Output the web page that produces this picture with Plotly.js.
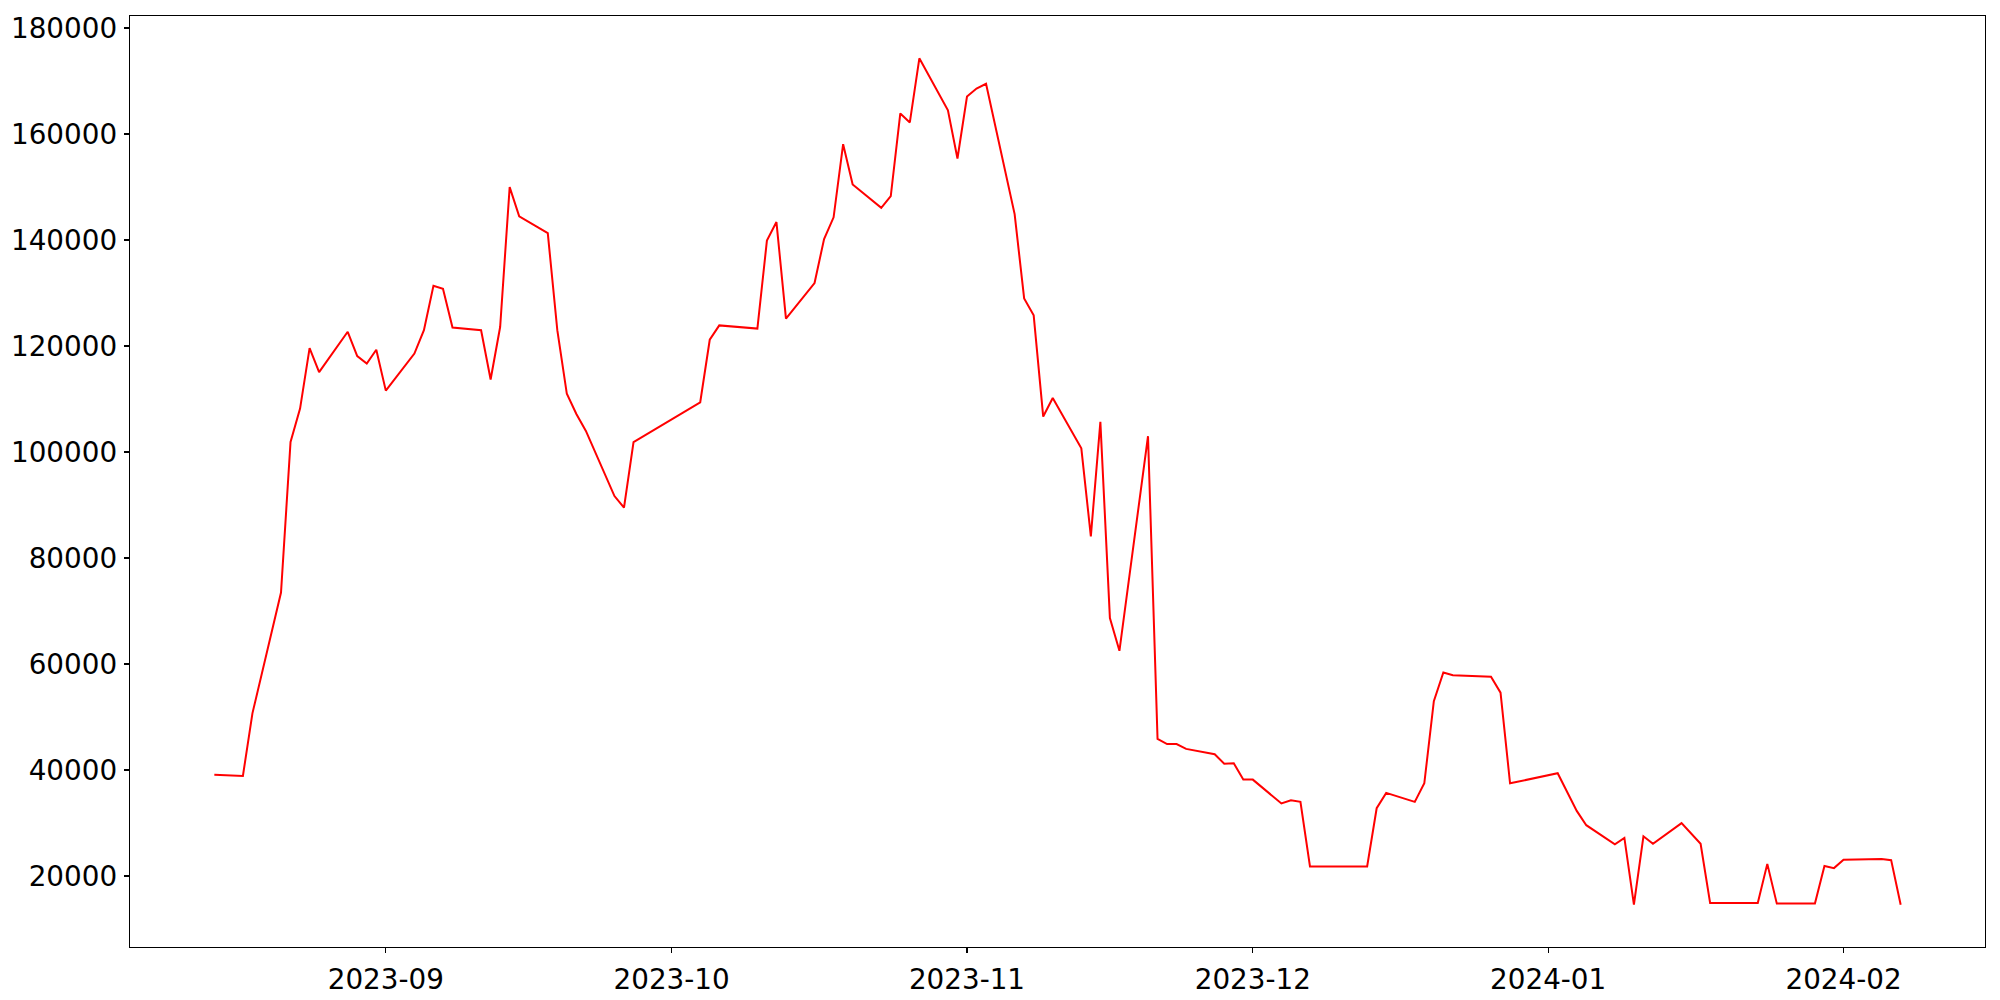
<!DOCTYPE html>
<html>
<head>
<meta charset="utf-8">
<script src="https://cdn.plot.ly/plotly-3.0.1.min.js"></script>
<style>
  html, body { margin: 0; padding: 0; background: #fff; }
  #chart { width: 2000px; height: 1000px; }
</style>
</head>
<body>
<div id="chart"></div>
<script>
const dates = [
  "2023-08-14","2023-08-16","2023-08-17","2023-08-18",
  "2023-08-21","2023-08-22","2023-08-23","2023-08-24","2023-08-25",
  "2023-08-28","2023-08-29","2023-08-30","2023-08-31","2023-09-01",
  "2023-09-04","2023-09-05","2023-09-06","2023-09-07","2023-09-08",
  "2023-09-11","2023-09-12","2023-09-13","2023-09-14","2023-09-15",
  "2023-09-18","2023-09-19","2023-09-20","2023-09-21","2023-09-22",
  "2023-09-25","2023-09-26","2023-09-27",
  "2023-10-04","2023-10-05","2023-10-06",
  "2023-10-10","2023-10-11","2023-10-12","2023-10-13",
  "2023-10-16","2023-10-17","2023-10-18","2023-10-19","2023-10-20",
  "2023-10-23","2023-10-24","2023-10-25","2023-10-26","2023-10-27",
  "2023-10-30","2023-10-31","2023-11-01","2023-11-02","2023-11-03",
  "2023-11-06","2023-11-07","2023-11-08","2023-11-09","2023-11-10",
  "2023-11-13","2023-11-14","2023-11-15","2023-11-16","2023-11-17",
  "2023-11-20","2023-11-21","2023-11-22","2023-11-23","2023-11-24",
  "2023-11-27","2023-11-28","2023-11-29","2023-11-30","2023-12-01",
  "2023-12-04","2023-12-05","2023-12-06","2023-12-07",
  "2023-12-13","2023-12-14","2023-12-15",
  "2023-12-18","2023-12-19","2023-12-20","2023-12-21","2023-12-22",
  "2023-12-26","2023-12-27","2023-12-28",
  "2024-01-02","2024-01-04","2024-01-05",
  "2024-01-08","2024-01-09","2024-01-10","2024-01-11","2024-01-12",
  "2024-01-15","2024-01-16","2024-01-17","2024-01-18",
  "2024-01-23","2024-01-24","2024-01-25",
  "2024-01-29","2024-01-30","2024-01-31","2024-02-01",
  "2024-02-05","2024-02-06","2024-02-07"
];
const values = [
  39100, 38900, 38900, 50700,
  73500, 101900, 108200, 119600, 115100,
  122700, 118100, 116700, 119300, 111600,
  118600, 123000, 131400, 130800, 123500,
  123000, 113700, 123600, 150000, 144500,
  141300, 123000, 111000, 107200, 104000,
  91700, 89500, 101900,
  109400, 121200, 123900,
  123300, 139900, 143400, 125200,
  131900, 140200, 144300, 158100, 150500,
  146100, 148300, 163900, 162200, 174300,
  164500, 155400, 167100, 168600, 169500,
  144900, 129000, 125800, 106700, 110200,
  100700, 84100, 105700, 68700, 62500,
  103000, 45900, 44900, 44900, 44000,
  43000, 41200, 41300, 38200, 38200,
  33700, 34300, 34000, 21800,
  21800, 32800, 35700,
  34000, 37500, 53000, 58400, 57900,
  57600, 54600, 37500,
  39400, 32300, 29600,
  26000, 27200, 14600, 27500, 26100,
  30000, 28000, 26100, 14900,
  14900, 22300, 14800,
  14800, 21900, 21500, 23100,
  23200, 23000, 14600
];
const xTickVals = ["2023-09-01","2023-10-01","2023-11-01","2023-12-01","2024-01-01","2024-02-01"];
const xTickText = ["2023-09","2023-10","2023-11","2023-12","2024-01","2024-02"];
const yTickVals = [20000,40000,60000,80000,100000,120000,140000,160000,180000];
const yTickText = ["20000","40000","60000","80000","100000","120000","140000","160000","180000"];

const trace = {
  x: dates,
  y: values,
  type: "scatter",
  mode: "lines",
  line: { color: "#ff0000", width: 2 },
  hoverinfo: "x+y"
};

const axisCommon = {
  showgrid: false,
  zeroline: false,
  showline: true,
  mirror: true,
  linecolor: "#000000",
  linewidth: 1.3,
  ticks: "outside",
  ticklen: 5,
  tickwidth: 1.3,
  tickcolor: "#000000",
  tickfont: { family: "DejaVu Sans", size: 27.8, color: "#000000" }
};

const layout = {
  width: 2000,
  height: 1000,
  margin: { l: 130, r: 15, t: 16, b: 53, pad: 0 },
  paper_bgcolor: "#ffffff",
  plot_bgcolor: "#ffffff",
  showlegend: false,
  xaxis: Object.assign({}, axisCommon, {
    type: "date",
    range: ["2023-08-05 03:36", "2024-02-15 20:24"],
    tickmode: "array",
    tickvals: xTickVals,
    ticktext: xTickText,
    ticklabelstandoff: 2
  }),
  yaxis: Object.assign({}, axisCommon, {
    range: [6615, 182285],
    tickmode: "array",
    tickvals: yTickVals,
    ticktext: yTickText,
    ticklabelstandoff: 1
  })
};

Plotly.newPlot("chart", [trace], layout, { displayModeBar: false, staticPlot: true });
</script>
</body>
</html>
